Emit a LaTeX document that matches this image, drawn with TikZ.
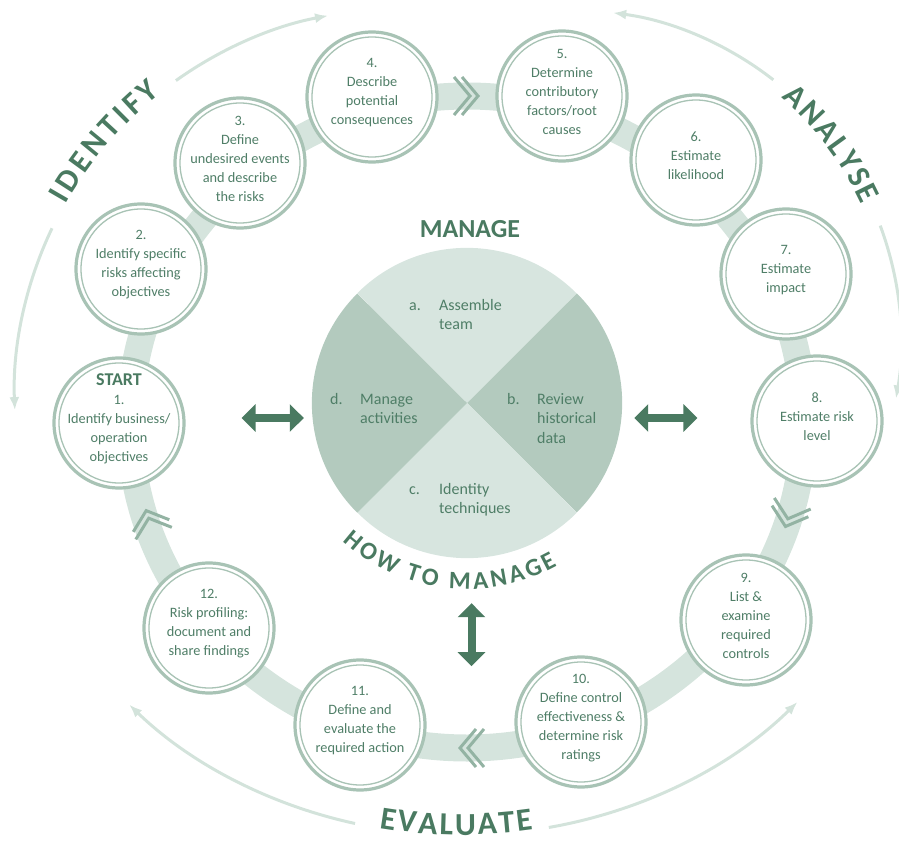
\documentclass[tikz,border=0pt]{standalone}
\usepackage{fontspec}
\setmainfont{Carlito}
\usepackage{tikz}
\usetikzlibrary{arrows.meta}
\usetikzlibrary{decorations.text}
\usepackage{xcolor}

\definecolor{dkgreen}{HTML}{4A7A61}
\definecolor{txtgreen}{HTML}{4F7E67}
\definecolor{ringgreen}{HTML}{A8C3B5}
\definecolor{bandgreen}{HTML}{D5E4DD}
\definecolor{pielight}{HTML}{D7E5DF}
\definecolor{piedark}{HTML}{B3CABE}
\definecolor{chevgreen}{HTML}{93B3A3}
\definecolor{arcgreen}{HTML}{D3E3DB}

\newcommand{\phasefont}{\fontsize{32}{32}\selectfont\bfseries}
\newcommand{\itm}[1]{\makebox[30pt][l]{#1}}

\begin{document}
\begin{tikzpicture}[x=1pt, y=-1pt,
	stepnode/.style={circle, draw=ringgreen, line width=3.2pt, fill=white,
		minimum size=130pt, inner sep=0pt,
		path picture={\draw[ringgreen, line width=1.3pt] (path picture bounding box.center) circle (60);}},
	steptext/.style={text=txtgreen, align=center, inner sep=0pt, yshift=4pt,
		font=\fontsize{14.3}{19}\selectfont},
	pietext/.style={text=txtgreen, anchor=west, inner sep=0pt,
		font=\fontsize{16}{19.5}\selectfont},
	fatarrow/.style={dkgreen, line width=8pt,
		{Triangle[width=27pt,length=14pt]}-{Triangle[width=27pt,length=14pt]}},
	outerarc/.style={arcgreen, line width=3pt, -{Latex[length=13pt,width=10pt]}},
	chev/.style={chevgreen, line width=3pt},
	phase/.style={decorate, decoration={text along path, text color=dkgreen, text align={fit to path}}}
	]
	\useasboundingbox (0,0) rectangle (899,842);
	\clip (0,0) rectangle (899,842);
	
	% Ring
	\draw[bandgreen, line width=27pt] (467,422) ellipse [x radius=337, y radius=326];
	
	% Chevrons on the ring
	\foreach \cx/\cy/\ang in {466/96/0, 789/515/-107, 472/748/180, 150/522/108.5}
	{
		\begin{scope}[shift={(\cx,\cy)}, rotate=\ang]
			\draw[chev] (-12,-19) -- (4,0) -- (-12,19);
			\draw[chev] (-4,-19) -- (12,0) -- (-4,19);
		\end{scope}
	}
	
	% Outer arcs
	\draw[outerarc] (399.5,394) ++(205.5:385) arc[start angle=205.5, end angle=177.6, radius=385];
	\draw[outerarc] (399.5,394) ++(234.5:385) arc[start angle=234.5, end angle=259.3, radius=385];
	\draw[outerarc] (570,341) ++(307.9:331) arc[start angle=307.9, end angle=277.5, radius=331];
	\draw[outerarc] (570,341) ++(339.6:331) arc[start angle=339.6, end angle=370, radius=331];
	\draw[outerarc] (462,425) ++(103.6:455 and 410) arc[start angle=103.6, end angle=137, x radius=455, y radius=410];
	\draw[outerarc] (462,425) ++(79:455 and 410) arc[start angle=79, end angle=42.5, x radius=455, y radius=410];
	
	% Phase titles
	\path[phase, decoration={text={|\phasefont|IDENTIFY}}]
		(399.5,394) ++(209.5:384) arc[start angle=209.5, end angle=231.5, radius=384];
	\path[phase, decoration={text={|\phasefont|ANALYSE}}]
		(570,341) ++(311:322) arc[start angle=311, end angle=335, radius=322];
	\path[phase, decoration={text={|\phasefont|EVALUATE}}]
		(462,425) ++(100.5:455 and 410) arc[start angle=100.5, end angle=81, x radius=455, y radius=410];
	
	% Steps
	\node[stepnode, label={[steptext]center:{{\color{dkgreen}\fontsize{18}{20}\bfseries START}\\1.\\Identify business/\\operation\\objectives}}] (s1) at (119,423) {};
	\node[stepnode, label={[steptext]center:{2.\\Identify specific\\risks affecting\\objectives}}] (s2) at (141,269) {};
	\node[stepnode, label={[steptext]center:{3.\\Define\\undesired events\\and describe\\the risks}}] (s3) at (240,163) {};
	\node[stepnode, label={[steptext]center:{4.\\Describe\\potential\\consequences}}] (s4) at (372,97) {};
	\node[stepnode, label={[steptext]center:{5.\\Determine\\contributory\\factors/root\\causes}}] (s5) at (562,96) {};
	\node[stepnode, label={[steptext]center:{6.\\Estimate\\likelihood}}] (s6) at (696,160) {};
	\node[stepnode, label={[steptext]center:{7.\\Estimate\\impact}}] (s7) at (786,274) {};
	\node[stepnode, label={[steptext]center:{8.\\Estimate risk\\level}}] (s8) at (817,421) {};
	\node[stepnode, label={[steptext]center:{9.\\List \&\\examine\\required\\controls}}] (s9) at (746,620) {};
	\node[stepnode, label={[steptext]center:{10.\\Define control\\effectiveness \&\\determine risk\\ratings}}] (s10) at (581,722) {};
	\node[stepnode, label={[steptext]center:{11.\\Define and\\evaluate the\\required action}}] (s11) at (360,725) {};
	\node[stepnode, label={[steptext]center:{12.\\Risk profiling:\\document and\\share findings}}] (s12) at (209,628) {};
	
	% Manage pie
	\node[circle, minimum size=310pt, inner sep=0pt] (pie) at (467,403) {};
	\fill[pielight] (pie.center) -- (pie.north west) arc[start angle=225, end angle=315, radius=155] -- cycle;
	\fill[piedark] (pie.center) -- (pie.north east) arc[start angle=315, end angle=405, radius=155] -- cycle;
	\fill[pielight] (pie.center) -- (pie.south east) arc[start angle=45, end angle=135, radius=155] -- cycle;
	\fill[piedark] (pie.center) -- (pie.south west) arc[start angle=135, end angle=225, radius=155] -- cycle;
	
	\node[text=dkgreen, font=\fontsize{26}{26}\selectfont\bfseries] (manage) at (470,229) {MANAGE};
	\node[pietext] (pa) at (409,316) {\begin{tabular}{@{}l@{}l@{}}\itm{a.}&Assemble\\&team\end{tabular}};
	\node[pietext] (pb) at (507,420) {\begin{tabular}{@{}l@{}l@{}}\itm{b.}&Review\\&historical\\&data\end{tabular}};
	\node[pietext] (pc) at (409,500) {\begin{tabular}{@{}l@{}l@{}}\itm{c.}&Identity\\&techniques\end{tabular}};
	\node[pietext] (pd) at (330,410) {\begin{tabular}{@{}l@{}l@{}}\itm{d.}&Manage\\&activities\end{tabular}};
	
	\path[phase, decoration={text={|\fontsize{25}{25}\selectfont\bfseries|HOW TO MANAGE}}]
		(467,403) ++(132:186) arc[start angle=132, end angle=61, radius=186];
	
	% Links to the pie
	\draw[fatarrow] ([xshift=56pt, yshift=5pt]s1.east) -- ([xshift=-8pt, yshift=-15pt]pie.west);
	\draw[fatarrow] ([xshift=12pt, yshift=-15pt]pie.east) -- ([xshift=-53pt, yshift=3pt]s8.west);
	\draw[fatarrow] ([shift={(4.5,45)}]pie.south) -- ([shift={(4.5,108)}]pie.south);
\end{tikzpicture}
\end{document}
